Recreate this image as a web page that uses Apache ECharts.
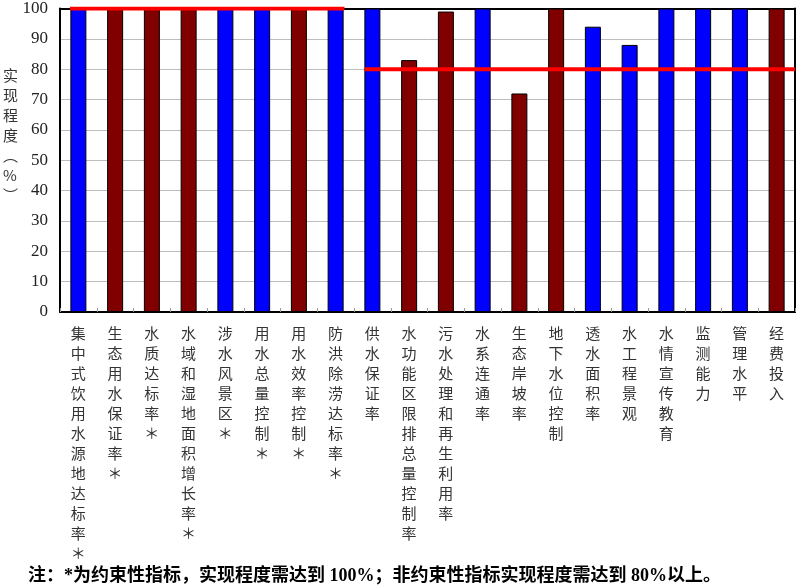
<!DOCTYPE html>
<html>
<head>
<meta charset="utf-8">
<script src="https://cdn.jsdelivr.net/npm/echarts@6/dist/echarts.min.js"></script>
<style>
html,body{margin:0;padding:0;background:#fff;}
#main{width:798px;height:588px;}
</style>
</head>
<body>
<div id="main"></div>
<script>
// ---- data ----
var categories = [
  '集中式饮用水源地达标率*', '生态用水保证率*', '水质达标率*', '水域和湿地面积增长率*',
  '涉水风景区*', '用水总量控制*', '用水效率控制*', '防洪除涝达标率*', '供水保证率',
  '水功能区限排总量控制率', '污水处理和再生利用率', '水系连通率', '生态岸坡率',
  '地下水位控制', '透水面积率', '水工程景观', '水情宣传教育', '监测能力', '管理水平', '经费投入'
];
var values = [100, 100, 100, 100, 100, 100, 100, 100, 100, 83, 99, 100, 72, 100, 94, 88, 100, 100, 100, 100];
// colour group of each bar: 'b' = blue, 'r' = dark red
var colorGroup = ['b','r','r','r','b','b','r','b','b','r','r','b','r','r','b','b','b','b','b','r'];
var yTicks = [0, 10, 20, 30, 40, 50, 60, 70, 80, 90, 100];
// target lines: [categoryPos, value]
var bindingTarget = [[0.27, 100], [7.74, 100]];
var nonBindingTarget = [[8.29, 80], [20, 80]];
var yName = '实现程度（%）';
var footnote = '注：*为约束性指标，实现程度需达到 100%；非约束性指标实现程度需达到 80%以上。';

var palette = { b: '#0000ff', r: '#800000' };

var chart = echarts.init(document.getElementById('main'));
var barData = values.map(function (v, i) {
  return { value: v, itemStyle: { color: palette[colorGroup[i]] } };
});
var vertName = yName.replace('（', '︵').replace('）', '︶').split('').join('\n');

chart.setOption({
  backgroundColor: '#fff',
  animation: false,
  grid: { left: 60, right: 3, top: 6, bottom: 276 },
  xAxis: [
    {
      type: 'category',
      data: categories,
      boundaryGap: true,
      axisLine: { show: true, lineStyle: { color: '#000', width: 2 } },
      axisTick: { show: true, inside: true, length: 4, lineStyle: { color: '#999' } },
      axisLabel: {
        interval: 0,
        margin: 11,
        color: '#333',
        fontSize: 15,
        lineHeight: 20,
        fontFamily: 'Noto Sans CJK SC',
        formatter: function (s) { return s.replace('*', '＊').split('').join('\n'); }
      },
      splitLine: { show: false }
    },
    {
      type: 'value',
      position: 'top',
      min: 0, max: 20,
      axisLine: { show: true, onZero: false, lineStyle: { color: '#000', width: 2 } },
      axisTick: { show: false },
      axisLabel: { show: false },
      splitLine: { show: false }
    }
  ],
  yAxis: [
    {
      type: 'value',
      min: 0, max: 100, interval: 10,
      axisLine: { show: true, lineStyle: { color: '#000', width: 2 } },
      axisTick: { show: false },
      axisLabel: {
        color: '#222', fontSize: 17, fontFamily: 'Liberation Serif', margin: 12,
        formatter: function (v) { return yTicks.indexOf(v) >= 0 ? String(v) : ''; }
      },
      splitLine: { show: true, lineStyle: { color: '#bdbdbd', width: 1 } }
    },
    {
      type: 'value',
      position: 'right',
      min: 0, max: 100, interval: 10,
      axisLine: { show: true, lineStyle: { color: '#000', width: 2 } },
      axisTick: { show: false },
      axisLabel: { show: false },
      splitLine: { show: false }
    }
  ],
  series: [
    {
      type: 'bar',
      data: barData,
      barWidth: 16,
      itemStyle: { borderColor: '#000', borderWidth: 1 },
      z: 2
    },
    {
      type: 'line',
      xAxisIndex: 1,
      data: bindingTarget,
      showSymbol: false,
      lineStyle: { color: '#ff0000', width: 4 },
      z: 5
    },
    {
      type: 'line',
      xAxisIndex: 1,
      data: nonBindingTarget,
      showSymbol: false,
      lineStyle: { color: '#ff0000', width: 4 },
      z: 5
    }
  ],
  graphic: [
    {
      type: 'text', left: 3, top: 65,
      style: { text: vertName, fill: '#333', fontSize: 15, lineHeight: 20, fontFamily: 'Noto Sans CJK SC', align: 'center' }
    },
    {
      type: 'text', left: 28, top: 567,
      style: { text: footnote, fill: '#000', fontSize: 18, fontWeight: 'bold', fontFamily: 'Liberation Serif, Noto Sans CJK SC' }
    }
  ]
});
</script>
</body>
</html>
